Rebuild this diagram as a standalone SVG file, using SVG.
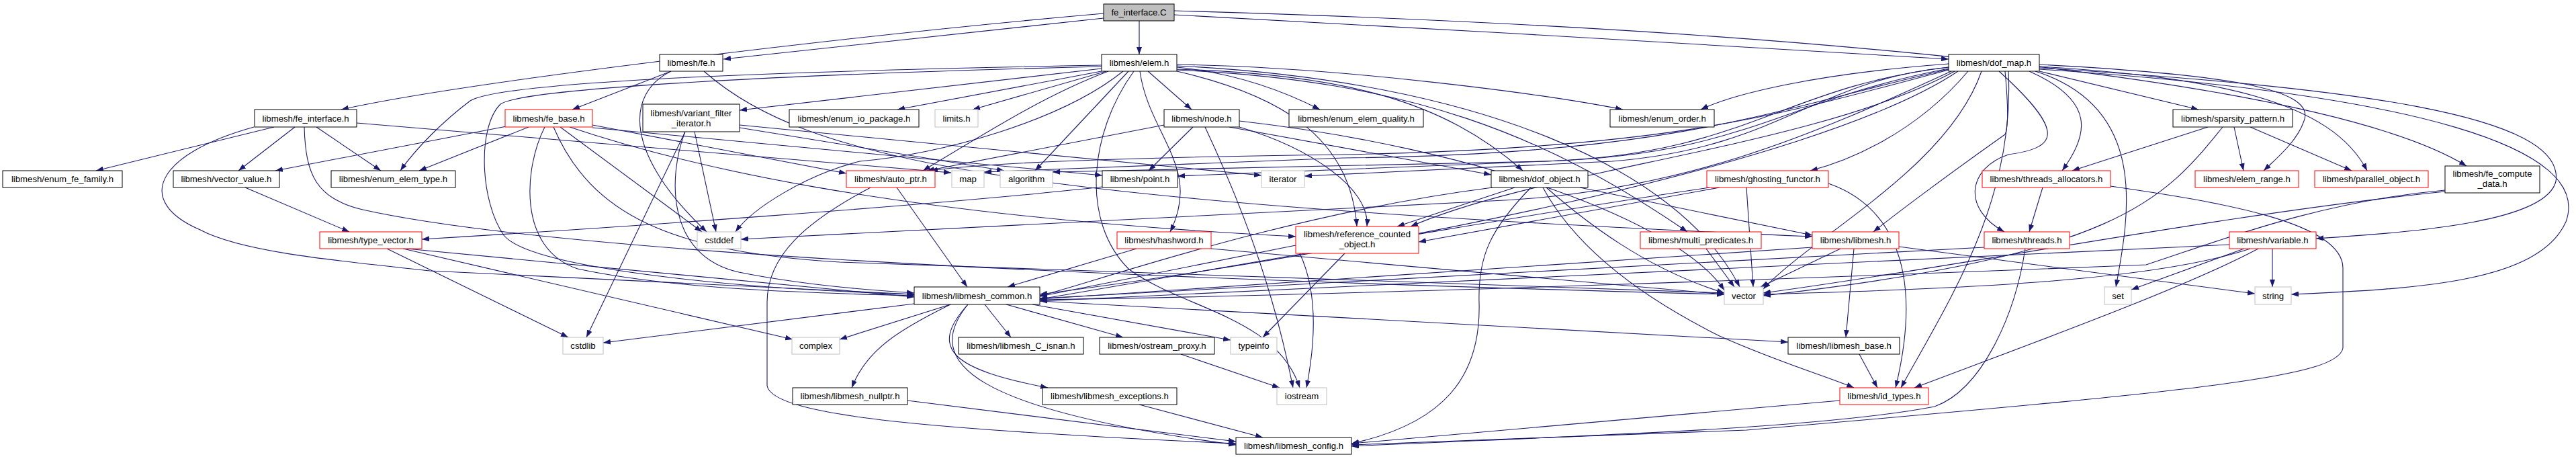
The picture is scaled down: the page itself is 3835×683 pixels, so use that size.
<svg xmlns="http://www.w3.org/2000/svg" width="3835" height="683" viewBox="0 0 3835 683">
<style>
.e path{fill:none;stroke:#191970;stroke-width:1.1;marker-end:url(#a)}
.n rect{fill:#fff;stroke:#000;stroke-width:1}
.n.red rect{stroke:#ff0000}
.n.sys rect{stroke:#bfbfbf}
.n.root rect{fill:#bfbfbf}
.n text{font-family:"Liberation Sans",Arial,sans-serif;font-size:13.2px;text-anchor:middle;fill:#000}
</style>
<defs>
<marker id="a" markerUnits="userSpaceOnUse" markerWidth="11" markerHeight="8" refX="11" refY="4" orient="auto" viewBox="0 0 11 8"><path d="M0,0 L11,4 L0,8 z" fill="#191970"/></marker>
</defs>
<rect width="3835" height="683" fill="#fff"/>
<g id="edges" class="e">
<path d="M1643,20 C1300,50 700,120 508,163"/>
<path d="M1643,27 L1077,88"/>
<path d="M1696,31 L1696,81"/>
<path d="M1748,22 C2100,40 2600,70 2901,88"/>
<path d="M1748,16 C2600,40 3450,110 3672,247"/>
<path d="M408,189 L143,254"/>
<path d="M439,189 L355,254"/>
<path d="M471,189 L567,254"/>
<path d="M378,189 C230,230 200,300 298,342 C360,375 500,388 640,403 L1361,438"/>
<path d="M531,183 L1416,257"/>
<path d="M453,189 C455,260 470,295 540,312 C800,370 1500,410 2567,438"/>
<path d="M365,279 L520,345"/>
<path d="M576,370 L846,502"/>
<path d="M600,370 L1180,505"/>
<path d="M605,370 L1361,442"/>
<path d="M1641,278 C1400,305 900,340 628,356"/>
<path d="M999,106 L852,163"/>
<path d="M999,106 C930,140 930,230 1052,345"/>
<path d="M1048,106 C1200,240 1500,300 2698,352"/>
<path d="M754,188 L410,254"/>
<path d="M787,189 L624,254"/>
<path d="M811,189 C780,250 770,370 860,400 C1000,430 1200,436 1361,440"/>
<path d="M834,189 L1045,345"/>
<path d="M882,186 L1260,258"/>
<path d="M882,190 L1641,261"/>
<path d="M848,189 C1000,240 1300,320 1929,352"/>
<path d="M824,189 C880,320 1000,375 1250,390 L2567,436"/>
<path d="M1020,196 L873,502"/>
<path d="M1020,196 C995,260 990,380 1100,405 C1200,425 1300,432 1361,436"/>
<path d="M1034,196 L1066,345"/>
<path d="M1101,186 L1878,261"/>
<path d="M1101,190 L1495,254"/>
<path d="M1640,97 C1200,105 750,120 700,150 C660,180 620,220 596,254"/>
<path d="M1640,99 C1200,110 780,130 745,155 C710,190 715,300 750,350 C790,400 1100,430 1361,438"/>
<path d="M1640,102 L1101,164"/>
<path d="M1640,106 L1336,163"/>
<path d="M1647,106 L1448,163"/>
<path d="M1650,106 C1560,140 1480,190 1374,254"/>
<path d="M1672,106 C1580,180 1400,230 1280,240 C1200,260 1120,310 1095,345"/>
<path d="M1680,106 L1541,254"/>
<path d="M1688,106 C1620,200 1610,330 1680,400 C1760,460 1900,470 1935,577"/>
<path d="M1697,106 C1710,200 1790,250 1742,345"/>
<path d="M1709,106 L1774,163"/>
<path d="M1752,100 C1850,110 1920,140 1965,163"/>
<path d="M1752,96 C2000,100 2300,140 2416,163"/>
<path d="M1752,103 C2000,110 2150,150 2267,254"/>
<path d="M1752,106 C1900,140 2010,200 2020,337"/>
<path d="M1752,104 C2100,120 2300,200 2512,345"/>
<path d="M1752,98 C2200,120 2500,250 2590,427"/>
<path d="M1776,189 L1710,254"/>
<path d="M1733,186 L1380,254"/>
<path d="M1794,189 C1860,330 1900,450 1925,577"/>
<path d="M1830,189 L2220,260"/>
<path d="M1845,189 C1950,220 2040,280 2035,337"/>
<path d="M1845,180 C2200,220 2500,330 2567,432"/>
<path d="M2222,279 C1900,320 1600,430 1548,440"/>
<path d="M2255,279 L2080,337"/>
<path d="M2279,279 C2220,340 2200,380 2202,450 C2205,560 2150,630 2012,660"/>
<path d="M2297,279 C2330,340 2400,420 2560,500 C2650,540 2720,560 2760,577"/>
<path d="M2302,279 C2360,330 2450,400 2567,436"/>
<path d="M2352,279 L2698,350"/>
<path d="M2002,377 L1880,502"/>
<path d="M1929,365 L1548,441"/>
<path d="M1935,377 C1960,430 1960,500 1945,577"/>
<path d="M2560,279 L2112,360"/>
<path d="M2545,279 C2200,330 1700,420 1548,445"/>
<path d="M2722,273 C2800,300 2870,380 2822,577"/>
<path d="M2600,279 L2610,427"/>
<path d="M2901,95 C2700,110 2580,140 2532,163"/>
<path d="M2930,106 C2850,200 2750,240 2695,254"/>
<path d="M2985,106 C2990,160 2990,190 2985,200 C2900,260 2820,320 2789,345"/>
<path d="M2976,106 C3080,200 3060,220 2990,230 C2930,250 2920,310 2984,345"/>
<path d="M3021,106 C3120,150 3110,200 3070,254"/>
<path d="M3041,279 L3021,345"/>
<path d="M3287,189 L3085,254"/>
<path d="M3326,189 L3340,254"/>
<path d="M3350,189 L3501,254"/>
<path d="M3309,189 C3220,300 3150,380 2625,440"/>
<path d="M3036,106 L3273,163"/>
<path d="M3036,96 C3300,110 3450,130 3430,180 C3420,210 3390,235 3370,254"/>
<path d="M3036,99 C3300,115 3470,150 3524,254"/>
<path d="M3036,101 C3500,130 3820,170 3805,270 C3790,330 3600,345 3448,355"/>
<path d="M3036,103 C3600,140 3860,220 3820,330 C3780,420 3600,430 3411,438"/>
<path d="M2901,100 C2700,120 2650,220 2400,240 L1942,262"/>
<path d="M2901,100 C2650,130 2600,230 2300,240 L1567,256"/>
<path d="M2901,102 C2650,150 2600,230 2300,240 L1753,262"/>
<path d="M2901,103 C2650,160 2500,230 2000,235 L1465,256"/>
<path d="M2901,104 C2650,170 2500,220 2000,230 C1600,235 1450,245 1385,254"/>
<path d="M2905,106 C2700,200 2500,290 2200,300 L1103,356"/>
<path d="M2910,106 C2700,220 2300,250 2100,337"/>
<path d="M2915,106 C2700,250 2000,380 1548,438"/>
<path d="M2950,106 C2900,250 2700,350 2625,430"/>
<path d="M2990,106 C3000,300 2900,450 2830,577"/>
<path d="M3030,106 C3200,160 3170,320 3150,427"/>
<path d="M3142,277 C3300,300 3490,330 3488,400 L3488,518 C3480,560 3300,580 2600,640 L2012,662"/>
<path d="M3015,370 C3000,470 2950,580 2880,605 C2700,640 2300,650 2012,664"/>
<path d="M2954,368 L1548,444"/>
<path d="M2760,370 L2748,502"/>
<path d="M2740,370 L2621,427"/>
<path d="M2698,368 L1548,445"/>
<path d="M2827,367 L3357,437"/>
<path d="M3319,364 L1548,448"/>
<path d="M3383,370 L3383,427"/>
<path d="M3341,370 L3173,431"/>
<path d="M3362,370 C3250,430 3000,520 2850,577"/>
<path d="M3350,370 C3200,420 2900,430 2625,438"/>
<path d="M2540,370 L2582,427"/>
<path d="M1692,370 L1500,427"/>
<path d="M1803,370 L2567,438"/>
<path d="M1361,452 L898,510"/>
<path d="M1415,453 L1250,505"/>
<path d="M1415,453 C1340,490 1290,520 1268,577"/>
<path d="M1441,453 C1380,520 1420,550 1560,577"/>
<path d="M1441,453 C1370,540 1450,610 1840,662"/>
<path d="M1466,453 L1505,502"/>
<path d="M1498,453 L1672,502"/>
<path d="M1537,453 L1832,506"/>
<path d="M1548,448 L2662,509"/>
<path d="M1758,527 L1905,577"/>
<path d="M1351,596 L1840,657"/>
<path d="M1696,602 L1880,651"/>
<path d="M2739,596 L2012,660"/>
<path d="M2768,527 L2795,577"/>
<path d="M1335,279 L1440,427"/>
<path d="M1296,279 C1200,330 1142,380 1142,450 L1142,574 C1150,620 1400,640 1840,660"/>
<path d="M3640,285 C3300,320 2900,400 2625,436"/>
<path d="M3640,283 C3450,300 3300,360 3195,394 C2800,410 2000,440 1548,446"/>
</g>
<g id="node-fe_interface_C" class="n root"><rect x="1643" y="6" width="105" height="25"/><text x="1695.5" y="23">fe_interface.C</text></g>
<g id="node-fe_interface_h" class="n"><rect x="379" y="163" width="152" height="26"/><text x="455" y="180.5">libmesh/fe_interface.h</text></g>
<g id="node-fe_h" class="n"><rect x="982" y="81" width="94" height="25"/><text x="1029" y="98">libmesh/fe.h</text></g>
<g id="node-elem_h" class="n"><rect x="1640" y="81" width="112" height="25"/><text x="1696" y="98">libmesh/elem.h</text></g>
<g id="node-dof_map_h" class="n"><rect x="2901" y="81" width="135" height="25"/><text x="2968.5" y="98">libmesh/dof_map.h</text></g>
<g id="node-enum_fe_family_h" class="n"><rect x="4" y="254" width="178" height="25"/><text x="93" y="271">libmesh/enum_fe_family.h</text></g>
<g id="node-vector_value_h" class="n"><rect x="258" y="254" width="158" height="25"/><text x="337" y="271">libmesh/vector_value.h</text></g>
<g id="node-enum_elem_type_h" class="n"><rect x="493" y="254" width="185" height="25"/><text x="585.5" y="271">libmesh/enum_elem_type.h</text></g>
<g id="node-fe_base_h" class="n red"><rect x="752" y="163" width="130" height="26"/><text x="817" y="180.5">libmesh/fe_base.h</text></g>
<g id="node-variant_filter_iterator_h" class="n"><rect x="957" y="155" width="144" height="41"/><text x="1029" y="172.5">libmesh/variant_filter</text><text x="1029" y="188">_iterator.h</text></g>
<g id="node-enum_io_package_h" class="n"><rect x="1175" y="163" width="193" height="26"/><text x="1271.5" y="180.5">libmesh/enum_io_package.h</text></g>
<g id="node-limits_h" class="n sys"><rect x="1392" y="163" width="64" height="26"/><text x="1424" y="180.5">limits.h</text></g>
<g id="node-node_h" class="n"><rect x="1733" y="163" width="112" height="26"/><text x="1789" y="180.5">libmesh/node.h</text></g>
<g id="node-enum_elem_quality_h" class="n"><rect x="1919" y="163" width="200" height="26"/><text x="2019" y="180.5">libmesh/enum_elem_quality.h</text></g>
<g id="node-enum_order_h" class="n"><rect x="2397" y="163" width="155" height="26"/><text x="2474.5" y="180.5">libmesh/enum_order.h</text></g>
<g id="node-sparsity_pattern_h" class="n"><rect x="3235" y="163" width="178" height="26"/><text x="3324" y="180.5">libmesh/sparsity_pattern.h</text></g>
<g id="node-auto_ptr_h" class="n red"><rect x="1260" y="254" width="132" height="25"/><text x="1326" y="271">libmesh/auto_ptr.h</text></g>
<g id="node-map" class="n sys"><rect x="1417" y="254" width="48" height="25"/><text x="1441" y="271">map</text></g>
<g id="node-algorithm" class="n sys"><rect x="1489" y="254" width="78" height="25"/><text x="1528" y="271">algorithm</text></g>
<g id="node-point_h" class="n"><rect x="1641" y="254" width="112" height="25"/><text x="1697" y="271">libmesh/point.h</text></g>
<g id="node-iterator" class="n sys"><rect x="1878" y="254" width="64" height="25"/><text x="1910" y="271">iterator</text></g>
<g id="node-dof_object_h" class="n"><rect x="2220" y="254" width="144" height="25"/><text x="2292" y="271">libmesh/dof_object.h</text></g>
<g id="node-ghosting_functor_h" class="n red"><rect x="2541" y="254" width="181" height="25"/><text x="2631.5" y="271">libmesh/ghosting_functor.h</text></g>
<g id="node-threads_allocators_h" class="n red"><rect x="2951" y="254" width="191" height="25"/><text x="3046.5" y="271">libmesh/threads_allocators.h</text></g>
<g id="node-elem_range_h" class="n red"><rect x="3268" y="254" width="154" height="25"/><text x="3345" y="271">libmesh/elem_range.h</text></g>
<g id="node-parallel_object_h" class="n red"><rect x="3446" y="254" width="169" height="25"/><text x="3530.5" y="271">libmesh/parallel_object.h</text></g>
<g id="node-fe_compute_data_h" class="n"><rect x="3640" y="247" width="141" height="40"/><text x="3710.5" y="263">libmesh/fe_compute</text><text x="3710.5" y="278">_data.h</text></g>
<g id="node-type_vector_h" class="n red"><rect x="476" y="345" width="152" height="25"/><text x="552" y="362">libmesh/type_vector.h</text></g>
<g id="node-cstddef" class="n sys"><rect x="1038" y="345" width="65" height="25"/><text x="1070.5" y="362">cstddef</text></g>
<g id="node-hashword_h" class="n red"><rect x="1663" y="345" width="140" height="25"/><text x="1733" y="362">libmesh/hashword.h</text></g>
<g id="node-reference_counted_object_h" class="n red"><rect x="1929" y="337" width="183" height="40"/><text x="2020.5" y="352.5">libmesh/reference_counted</text><text x="2020.5" y="368">_object.h</text></g>
<g id="node-multi_predicates_h" class="n red"><rect x="2442" y="345" width="180" height="25"/><text x="2532" y="362">libmesh/multi_predicates.h</text></g>
<g id="node-libmesh_h" class="n red"><rect x="2698" y="345" width="129" height="25"/><text x="2762.5" y="362">libmesh/libmesh.h</text></g>
<g id="node-threads_h" class="n red"><rect x="2954" y="345" width="127" height="25"/><text x="3017.5" y="362">libmesh/threads.h</text></g>
<g id="node-variable_h" class="n red"><rect x="3319" y="345" width="129" height="25"/><text x="3383.5" y="362">libmesh/variable.h</text></g>
<g id="node-libmesh_common_h" class="n"><rect x="1361" y="427" width="187" height="26"/><text x="1454.5" y="444.5">libmesh/libmesh_common.h</text></g>
<g id="node-vector" class="n sys"><rect x="2567" y="427" width="58" height="26"/><text x="2596" y="444.5">vector</text></g>
<g id="node-set" class="n sys"><rect x="3133" y="427" width="40" height="26"/><text x="3153" y="444.5">set</text></g>
<g id="node-string" class="n sys"><rect x="3357" y="427" width="54" height="26"/><text x="3384" y="444.5">string</text></g>
<g id="node-cstdlib" class="n sys"><rect x="838" y="502" width="60" height="25"/><text x="868" y="519">cstdlib</text></g>
<g id="node-complex" class="n sys"><rect x="1179" y="502" width="71" height="25"/><text x="1214.5" y="519">complex</text></g>
<g id="node-libmesh_C_isnan_h" class="n"><rect x="1427" y="502" width="186" height="25"/><text x="1520" y="519">libmesh/libmesh_C_isnan.h</text></g>
<g id="node-ostream_proxy_h" class="n"><rect x="1637" y="502" width="171" height="25"/><text x="1722.5" y="519">libmesh/ostream_proxy.h</text></g>
<g id="node-typeinfo" class="n sys"><rect x="1832" y="502" width="69" height="25"/><text x="1866.5" y="519">typeinfo</text></g>
<g id="node-libmesh_base_h" class="n"><rect x="2662" y="502" width="166" height="25"/><text x="2745" y="519">libmesh/libmesh_base.h</text></g>
<g id="node-libmesh_nullptr_h" class="n"><rect x="1180" y="577" width="171" height="25"/><text x="1265.5" y="594">libmesh/libmesh_nullptr.h</text></g>
<g id="node-libmesh_exceptions_h" class="n"><rect x="1552" y="577" width="200" height="25"/><text x="1652" y="594">libmesh/libmesh_exceptions.h</text></g>
<g id="node-iostream" class="n sys"><rect x="1901" y="577" width="74" height="25"/><text x="1938" y="594">iostream</text></g>
<g id="node-id_types_h" class="n red"><rect x="2739" y="577" width="132" height="25"/><text x="2805" y="594">libmesh/id_types.h</text></g>
<g id="node-libmesh_config_h" class="n"><rect x="1840" y="651" width="172" height="25"/><text x="1926" y="668">libmesh/libmesh_config.h</text></g>
</svg>
